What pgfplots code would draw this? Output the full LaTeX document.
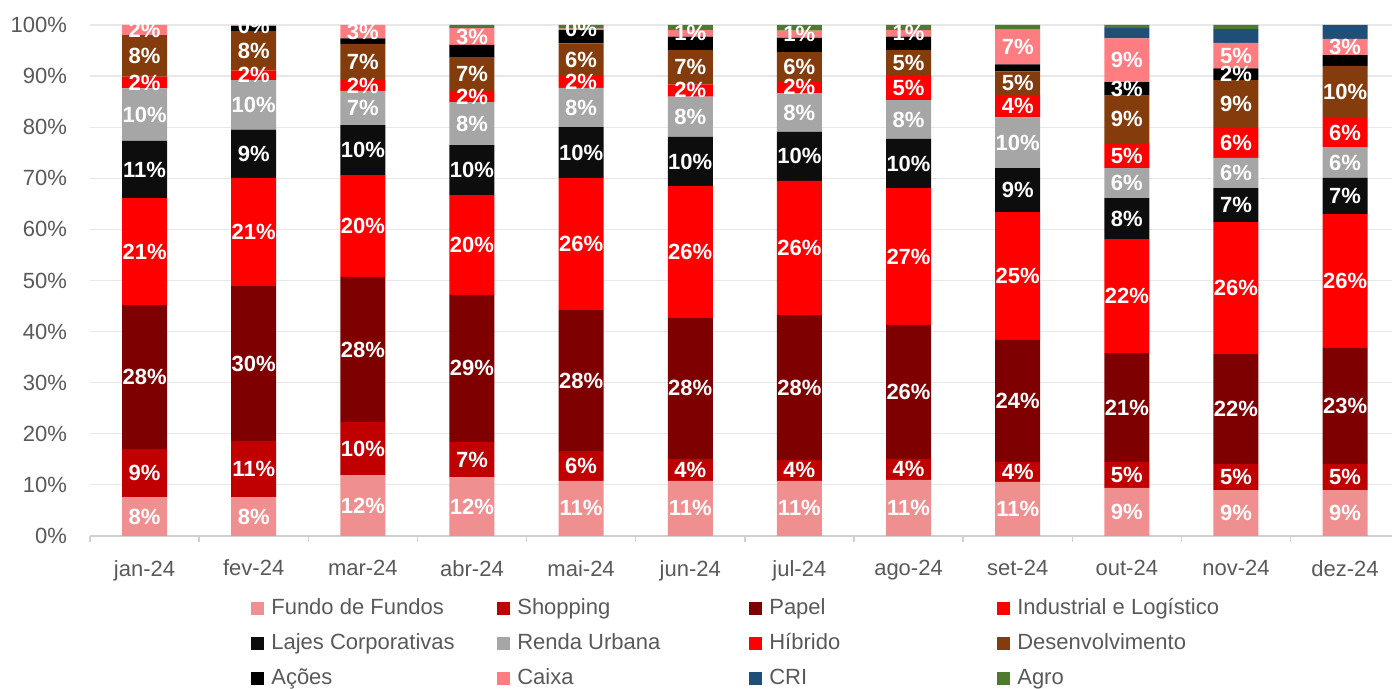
\documentclass[border=0pt]{standalone}
\usepackage{pgfplots}
\pgfplotsset{compat=1.18}
\usepackage{fontspec}
\setmainfont{Liberation Sans}

\definecolor{cFoF}{HTML}{EF8F90}
\definecolor{cShop}{HTML}{C00000}
\definecolor{cPapel}{HTML}{7F0000}
\definecolor{cInd}{HTML}{FF0000}
\definecolor{cLajes}{HTML}{0D0D0D}
\definecolor{cRenda}{HTML}{A6A6A6}
\definecolor{cHib}{HTML}{FF0000}
\definecolor{cDes}{HTML}{843C0C}
\definecolor{cAcoes}{HTML}{000000}
\definecolor{cCaixa}{HTML}{FF7C80}
\definecolor{cCRI}{HTML}{1F4E79}
\definecolor{cAgro}{HTML}{4E7A2E}
\definecolor{labelgray}{HTML}{595959}
\definecolor{gridgray}{HTML}{E8E8E8}
\definecolor{axisgray}{HTML}{D0D0D0}

\newcommand{\leg}[2]{\makebox[#1][l]{#2}}

\begin{document}
\begin{tikzpicture}
\begin{axis}[
  scale only axis,
  width=651pt, height=255.5pt,
  ybar stacked, bar width=22.5pt,
  xmin=-0.5, xmax=11.43,
  ymin=0, ymax=100,
  enlargelimits=false,
  xtick={0,...,11},
  xticklabels={jan-24,fev-24,mar-24,abr-24,mai-24,jun-24,jul-24,ago-24,set-24,out-24,nov-24,dez-24},
  minor xtick={-0.5,0.5,...,11.5},
  ytick={0,10,...,100},
  yticklabels={0\%,10\%,20\%,30\%,40\%,50\%,60\%,70\%,80\%,90\%,100\%},
  ymajorgrids,
  major grid style={draw=gridgray, line width=0.6pt},
  axis lines*=left,
  y axis line style={draw=none},
  x axis line style={draw=axisgray, line width=0.7pt},
  tick align=outside,
  major tick length=0pt,
  minor tick length=3pt,
  minor tick style={draw=axisgray, line width=0.7pt},
  tick label style={font=\fontsize{11}{13}\selectfont, text=labelgray},
  xticklabel style={yshift=-8.5pt},
  yticklabel style={xshift=-8pt},
  nodes near coords,
  point meta=explicit symbolic,
  every node near coord/.append style={font=\bfseries\fontsize{11}{13}\selectfont,
    text=white, anchor=center},
  legend columns=4,
  legend cell align=left,
  legend image code/.code={\fill[#1] (0pt,-3.25pt) rectangle (6.5pt,3.25pt);},
  legend style={at={(0.119,-0.111)}, anchor=north west, draw=none, fill=none,
    font=\fontsize{11}{13}\selectfont, text=labelgray,
    nodes={inner sep=0pt, text height=8.5pt, text depth=2.5pt},
    row sep=6.5pt,
    /tikz/every odd column/.style={column sep=3.5pt}},
]
\addplot[fill=cFoF, draw=none] coordinates {
  (0,7.6)[8\%] (1,7.6)[8\%] (2,11.9)[12\%] (3,11.5)[12\%] (4,10.8)[11\%] (5,10.8)[11\%]
  (6,10.8)[11\%] (7,11.0)[11\%] (8,10.6)[11\%] (9,9.4)[9\%] (10,9.0)[9\%] (11,9.0)[9\%]};
\addlegendentry{\leg{113pt}{Fundo de Fundos}}
\addplot[fill=cShop, draw=none] coordinates {
  (0,9.4)[9\%] (1,11.0)[11\%] (2,10.4)[10\%] (3,6.9)[7\%] (4,5.8)[6\%] (5,4.3)[4\%]
  (6,4.1)[4\%] (7,4.1)[4\%] (8,3.9)[4\%] (9,5.1)[5\%] (10,5.1)[5\%] (11,5.1)[5\%]};
\addlegendentry{\leg{116pt}{Shopping}}
\addplot[fill=cPapel, draw=none] coordinates {
  (0,28.2)[28\%] (1,30.3)[30\%] (2,28.4)[28\%] (3,28.8)[29\%] (4,27.6)[28\%] (5,27.6)[28\%]
  (6,28.3)[28\%] (7,26.2)[26\%] (8,23.9)[24\%] (9,21.3)[21\%] (10,21.5)[22\%] (11,22.7)[23\%]};
\addlegendentry{\leg{114pt}{Papel}}
\addplot[fill=cInd, draw=none] coordinates {
  (0,20.9)[21\%] (1,21.2)[21\%] (2,19.9)[20\%] (3,19.5)[20\%] (4,25.9)[26\%] (5,25.8)[26\%]
  (6,26.3)[26\%] (7,26.8)[27\%] (8,25.0)[25\%] (9,22.3)[22\%] (10,25.8)[26\%] (11,26.2)[26\%]};
\addlegendentry{Industrial e Logístico}
\addplot[fill=cLajes, draw=none] coordinates {
  (0,11.2)[11\%] (1,9.4)[9\%] (2,9.8)[10\%] (3,9.8)[10\%] (4,9.9)[10\%] (5,9.6)[10\%]
  (6,9.6)[10\%] (7,9.6)[10\%] (8,8.6)[9\%] (9,8.0)[8\%] (10,6.7)[7\%] (11,7.1)[7\%]};
\addlegendentry{\leg{113pt}{Lajes Corporativas}}
\addplot[fill=cRenda, draw=none] coordinates {
  (0,10.3)[10\%] (1,9.7)[10\%] (2,6.7)[7\%] (3,8.4)[8\%] (4,7.7)[8\%] (5,7.9)[8\%]
  (6,7.5)[8\%] (7,7.6)[8\%] (8,9.9)[10\%] (9,5.9)[6\%] (10,5.9)[6\%] (11,6.0)[6\%]};
\addlegendentry{\leg{116pt}{Renda Urbana}}
\addplot[fill=cHib, draw=none] coordinates {
  (0,2.3)[2\%] (1,1.9)[2\%] (2,2.1)[2\%] (3,2.2)[2\%] (4,2.3)[2\%] (5,2.4)[2\%]
  (6,2.4)[2\%] (7,4.7)[5\%] (8,4.4)[4\%] (9,4.9)[5\%] (10,5.8)[6\%] (11,5.7)[6\%]};
\addlegendentry{\leg{114pt}{Híbrido}}
\addplot[fill=cDes, draw=none] coordinates {
  (0,8.1)[8\%] (1,7.7)[8\%] (2,7.1)[7\%] (3,6.6)[7\%] (4,6.4)[6\%] (5,6.7)[7\%]
  (6,5.7)[6\%] (7,5.1)[5\%] (8,4.6)[5\%] (9,9.3)[9\%] (10,9.4)[9\%] (11,10.2)[10\%]};
\addlegendentry{Desenvolvimento}
\addplot[fill=cAcoes, draw=none] coordinates {
  (0,0)[] (1,1.0)[] (2,1.1)[] (3,2.4)[] (4,2.6)[] (5,2.6)[]
  (6,2.8)[] (7,2.6)[] (8,1.4)[] (9,2.6)[3\%] (10,2.3)[2\%] (11,2.1)[]};
\addlegendentry{\leg{113pt}{Ações}}
\addplot[fill=cCaixa, draw=none] coordinates {
  (0,2.0)[2\%] (1,0.2)[0\%] (2,2.6)[3\%] (3,3.3)[3\%] (4,0.3)[0\%] (5,1.3)[1\%]
  (6,1.4)[1\%] (7,1.3)[1\%] (8,6.8)[7\%] (9,8.6)[9\%] (10,5.0)[5\%] (11,3.2)[3\%]};
\addlegendentry{\leg{116pt}{Caixa}}
\addplot[fill=cCRI, draw=none] coordinates {
  (0,0)[] (1,0)[] (2,0)[] (3,0)[] (4,0)[] (5,0)[]
  (6,0)[] (7,0)[] (8,0)[] (9,2.0)[] (10,2.7)[] (11,2.7)[]};
\addlegendentry{\leg{114pt}{CRI}}
\addplot[fill=cAgro, draw=none] coordinates {
  (0,0)[] (1,0)[] (2,0)[] (3,0.6)[] (4,0.7)[] (5,1.0)[]
  (6,1.1)[] (7,1.0)[] (8,0.9)[] (9,0.6)[] (10,0.8)[] (11,0)[]};
\addlegendentry{Agro}
\coordinate (bl) at (rel axis cs:0,0);
\end{axis}
\pgfresetboundingbox
\path[use as bounding box] (bl) ++(-45pt,-76.5pt) rectangle ++(696pt,344.5pt);
\end{tikzpicture}
\end{document}
